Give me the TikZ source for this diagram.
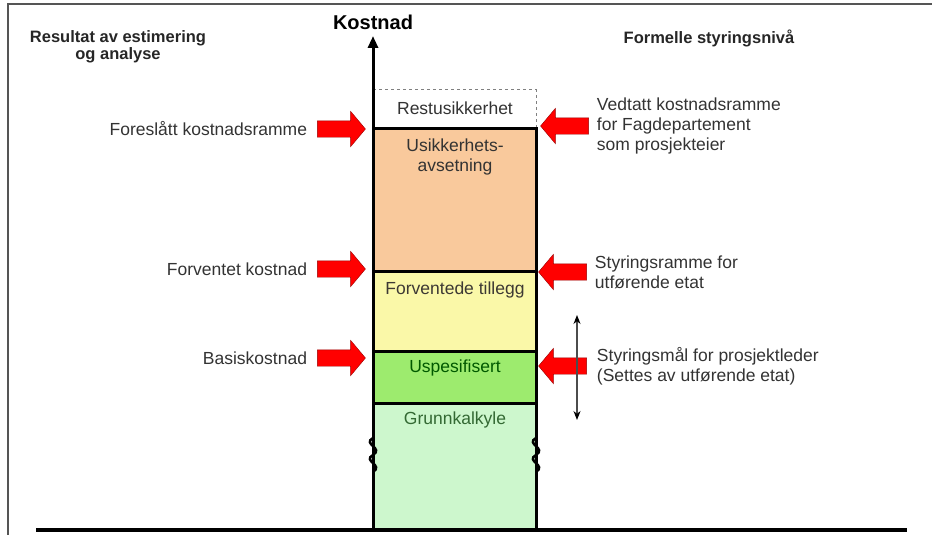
\documentclass[tikz,border=0pt]{standalone}
\usepackage{fontspec}
\setmainfont{Liberation Sans}
\usetikzlibrary{arrows.meta,shapes.arrows,positioning}

\definecolor{usikfill}{HTML}{F9C99C}
\definecolor{tilleggfill}{HTML}{FAF8A8}
\definecolor{uspesfill}{HTML}{9DEB6E}
\definecolor{grunnfill}{HTML}{CDF7CD}
\definecolor{txtgray}{HTML}{333333}
\definecolor{framegray}{HTML}{555555}

\tikzset{
  lbl/.style={font=\fontsize{17.5}{20}\selectfont, text=txtgray, inner sep=0pt},
  hdr/.style={font=\fontsize{16.5}{17}\selectfont\bfseries, text=black!85, inner sep=0pt, align=center},
  redarrow/.style={single arrow, fill=red, draw=red!60!black, line width=0.4pt,
    minimum height=48pt, inner xsep=0pt, inner ysep=8pt, single arrow head extend=9.5pt,
    single arrow tip angle=100},
  segline/.style={line width=3pt},
  breakmark/.style={line width=2.5pt},
}

\begin{document}
\begin{tikzpicture}[x=1pt,y=-1pt]
        \useasboundingbox (0,0) rectangle (932,535);
        \pgfmathsetmacro{\colL}{373}
        \pgfmathsetmacro{\colR}{536}

        % frame
        \draw[framegray, line width=2.5pt] (8,535) -- (8,4) -- (932,4);

        % column segments
        \fill[usikfill] (\colL,128) rectangle (\colR,271);
        \fill[tilleggfill] (\colL,271) rectangle (\colR,351);
        \fill[uspesfill] (\colL,351) rectangle (\colR,403);
        \fill[grunnfill] (\colL,403) rectangle (\colR,530);
        \draw[dashed, gray, line width=1pt] (\colL,90) -- (\colR,90) -- (\colR,128);
        \draw[segline] (\colL,128) -- (\colR,128) -- (\colR,530);
        \draw[segline] (\colL,271) -- (\colR,271);
        \draw[segline] (\colL,351) -- (\colR,351);
        \draw[segline] (\colL,403) -- (\colR,403);

        % break marks
        \draw[breakmark] (\colL,438) .. controls (362,444) and (384,448) .. (\colL,455) .. controls (362,461) and (384,465) .. (\colL,472);
        \draw[breakmark] (\colR,438) .. controls (525,444) and (547,448) .. (\colR,455) .. controls (525,461) and (547,465) .. (\colR,472);

        % axes
        \coordinate (axisBot) at (\colL,530);
        \coordinate (axisTop) at (\colL,36);
        \draw[line width=3pt, -{Triangle[length=12pt,width=10pt]}] (axisBot) -- (axisTop);
        \draw[line width=4pt] (36,530) -- (907,530);
        \node[font=\fontsize{20}{22}\selectfont\bfseries, inner sep=0pt] (kostnad) at (\colL,22) {Kostnad};

        % headers
        \node[hdr] (hdrResultat) at (118,46.5) {Resultat av estimering\\og analyse};
        \node[hdr] (hdrFormell) at (709,38) {Formelle styringsniv\aa};

        % segment texts
        \node[lbl] (restTxt) at (455,108) {Restusikkerhet};
        \node[lbl, align=center] (usikTxt) at (455,157) {Usikkerhets-\\avsetning};
        \node[lbl, text=black!70!yellow!40!black] (tilleggTxt) at (455,290) {Forventede tillegg};
        \node[lbl, text=green!35!black] (uspesTxt) at (455,368) {Uspesifisert};
        \node[lbl, text=black!65!green!60!gray] (grunnTxt) at (455,420) {Grunnkalkyle};

        % red arrows, left side
        \node[redarrow] (arrForeslatt) at (338,129) {};
        \node[redarrow] (arrForventet) at (338,269) {};
        \node[redarrow] (arrBasis) at (338,358) {};
        \node[lbl, left=10pt of arrForeslatt] (lblForeslatt) {Foresl\aa tt kostnadsramme};
        \node[lbl, left=10pt of arrForventet] (lblForventet) {Forventet kostnad};
        \node[lbl, left=10pt of arrBasis] (lblBasis) {Basiskostnad};

        % red arrows, right side
        \node[redarrow, shape border rotate=180] (arrVedtatt) at (568,126) {};
        \node[redarrow, shape border rotate=180] (arrStyramme) at (566,272) {};
        \node[redarrow, shape border rotate=180] (arrStymal) at (566,366) {};
        \node[lbl, align=left, right=8pt of arrVedtatt] (lblVedtatt) {Vedtatt kostnadsramme\\for Fagdepartement\\som prosjekteier};
        \node[lbl, align=left, right=8pt of arrStyramme] (lblStyramme) {Styringsramme for\\utf\o rende etat};
        \node[lbl, align=left, right=10pt of arrStymal] (lblStymal) {Styringsm\aa l for prosjektleder\\(Settes av utf\o rende etat)};

        % span of styringsmaal
        \coordinate (spanTop) at (577,315);
        \coordinate (spanBot) at (577,420);
        \draw[gray!60!black, line width=1.2pt, {Stealth[length=9pt,width=7pt,color=black]}-{Stealth[length=9pt,width=7pt,color=black]}] (spanTop) -- (spanBot);
    \end{tikzpicture}
\end{document}
